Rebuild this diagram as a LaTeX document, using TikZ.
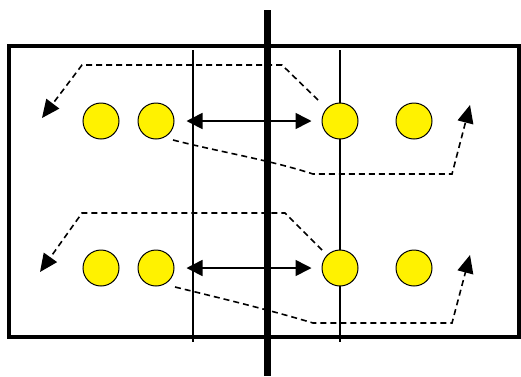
\documentclass[tikz,border=0pt]{standalone}
\usetikzlibrary{arrows.meta}
\begin{document}
\begin{tikzpicture}[x=1pt,y=-1pt,
  ball/.style={circle,draw=black,line width=1pt,fill=yellow,minimum size=36pt,inner sep=0pt},
  frame/.style={draw=black,line width=3.5pt},
  wall/.style={draw=black,line width=7pt},
  guide/.style={draw=black,line width=1.4pt},
  link/.style={draw=black,line width=1.6pt,{Triangle[length=16pt,width=16pt]}-{Triangle[length=16pt,width=16pt]}},
  flow/.style={draw=black,line width=1.6pt,dash pattern=on 6pt off 4pt,-{Triangle[length=18pt,width=16pt]}}]
\useasboundingbox (0,0) rectangle (521,376);
% outer frame and dividing lines
\draw[frame] (9,46) rectangle (519,337);
\draw[guide] (193,50) -- (193,342);
\draw[guide] (340,50) -- (340,342);
\draw[wall] (267,10) -- (267,376);
% upper row
\node[ball] (a1) at (101,121) {};
\node[ball] (a2) at (156,121) {};
\node[ball] (a3) at (340,121) {};
\node[ball] (a4) at (414,121) {};
% lower row
\node[ball] (b1) at (101,268) {};
\node[ball] (b2) at (156,268) {};
\node[ball] (b3) at (340,268) {};
\node[ball] (b4) at (414,268) {};
% exchange arrows across the wall
\draw[link,shorten <=12pt,shorten >=10pt] (a2) -- (a3);
\draw[link,shorten <=12pt,shorten >=10pt] (b2) -- (b3);
% upper flow paths
\coordinate (ua) at (318,100);
\coordinate (ub) at (42,118);
\draw[flow] (ua) -- (282,65) -- (82,65) -- (ub);
\coordinate (uc) at (173,140);
\coordinate (ud) at (470,105);
\draw[flow] (uc) .. controls (220,152) and (270,160) .. (313,174) -- (452,174) -- (ud);
% lower flow paths
\coordinate (la) at (322,250);
\coordinate (lb) at (40,272);
\draw[flow] (la) -- (285,213) -- (82,213) -- (lb);
\coordinate (lc) at (175,287);
\coordinate (ld) at (470,255);
\draw[flow] (lc) .. controls (220,298) and (270,310) .. (313,323) -- (452,323) -- (ld);
\end{tikzpicture}
\end{document}
